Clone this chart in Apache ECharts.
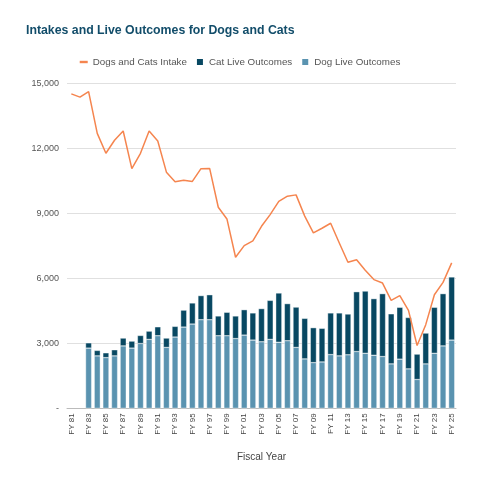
<!DOCTYPE html>
<html>
<head>
<meta charset="utf-8">
<script src="https://cdn.jsdelivr.net/npm/echarts@6/dist/echarts.min.js"></script>
<style>
html,body{margin:0;padding:0;background:#fff;}
#chart{width:480px;height:480px;}
</style>
</head>
<body>
<div id="chart"></div>
<script>
const categories = ["FY 81","FY 82","FY 83","FY 84","FY 85","FY 86","FY 87","FY 88","FY 89","FY 90",
"FY 91","FY 92","FY 93","FY 94","FY 95","FY 96","FY 97","FY 98","FY 99","FY 00",
"FY 01","FY 02","FY 03","FY 04","FY 05","FY 06","FY 07","FY 08","FY 09","FY 10",
"FY 11","FY 12","FY 13","FY 14","FY 15","FY 16","FY 17","FY 18","FY 19","FY 20",
"FY 21","FY 22","FY 23","FY 24","FY 25"];

const intake = [14510,14360,14620,12690,11770,12370,12800,11060,11770,12800,
12340,10900,10460,10530,10470,11060,11070,9280,8740,6970,
7510,7730,8400,8940,9550,9790,9850,8870,8100,8310,
8540,7630,6740,6860,6370,5940,5780,4980,5200,4520,
2900,3860,5240,5810,6710];

const dogLive = [null,null,2780,2420,2340,2420,2880,2780,2990,3180,
3350,2810,3290,3750,3890,4090,4090,3350,3350,3220,
3380,3150,3070,3180,3050,3120,2810,2280,2110,2140,
2480,2420,2470,2620,2540,2450,2390,2050,2270,1820,
1330,2050,2540,2880,3150];

const totalLive = [null,null,3020,2670,2560,2700,3240,3100,3360,3560,
3760,3240,3780,4530,4860,5200,5240,4260,4430,4260,
4550,4400,4600,4980,5320,4830,4670,4150,3720,3690,
4400,4400,4350,5380,5410,5060,5290,4360,4660,4190,
2500,3470,4660,5290,6060];

const catLive = totalLive.map((t,i)=> t==null ? null : t - dogLive[i]);

const yTicks = {min:0, max:15000, interval:3000};

const chart = echarts.init(document.getElementById('chart'));
chart.setOption({
  animation:false,
  textStyle:{fontFamily:'Liberation Sans, Arial, sans-serif'},
  title:{
    text:'Intakes and Live Outcomes for Dogs and Cats',
    left:21, top:20,
    textStyle:{fontSize:12.3, fontWeight:'bold', color:'#124d6a', fontFamily:'Liberation Sans, Arial, sans-serif'}
  },
  legend:{
    top:52, left:'center',
    itemWidth:8, itemHeight:8, itemGap:8,
    symbolKeepAspect:true,
    textStyle:{fontSize:9.8, color:'#555'},
    data:[
      {name:'Dogs and Cats Intake', icon:'path://M0,0h10v3h-10z', itemStyle:{color:'#f5854f'}},
      {name:'Cat Live Outcomes', icon:'rect'},
      {name:'Dog Live Outcomes', icon:'rect'}
    ]
  },
  grid:{left:67, right:24, top:83.3, bottom:71.7, containLabel:false},
  xAxis:{
    type:'category',
    data:categories,
    boundaryGap:true,
    name:'Fiscal Year',
    nameLocation:'middle',
    nameGap:44,
    nameTextStyle:{fontSize:10, color:'#444'},
    axisLine:{lineStyle:{color:'#bbbbbb', width:1}},
    axisTick:{show:false},
    axisLabel:{rotate:90, interval:1, fontSize:8, color:'#444', margin:5}
  },
  yAxis:{
    type:'value',
    min:yTicks.min, max:yTicks.max, interval:yTicks.interval,
    axisLine:{show:false},
    axisTick:{show:false},
    splitLine:{lineStyle:{color:'#e0e0e0', width:1}},
    axisLabel:{
      fontSize:9, color:'#555', margin:8,
      formatter:function(v){ return v===0 ? '-' : v.toLocaleString('en-US'); }
    }
  },
  series:[
    {
      name:'Dog Live Outcomes', type:'bar', stack:'live',
      data:dogLive, barCategoryGap:'30%',
      itemStyle:{color:'#5a93b0', borderColor:'#ffffff', borderWidth:0.4}
    },
    {
      name:'Cat Live Outcomes', type:'bar', stack:'live',
      data:catLive, barCategoryGap:'30%',
      itemStyle:{color:'#084862', borderColor:'#ffffff', borderWidth:0.4}
    },
    {
      name:'Dogs and Cats Intake', type:'line',
      data:intake, symbol:'none', smooth:false,
      lineStyle:{color:'#f5854f', width:1.5},
      itemStyle:{color:'#f5854f'},
      z:5
    }
  ]
});
</script>
</body>
</html>
